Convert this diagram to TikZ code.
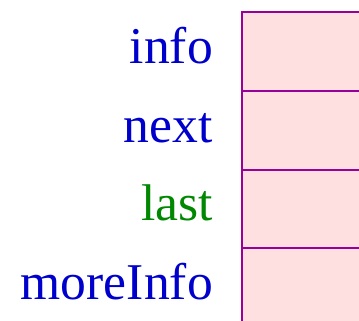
\documentclass[tikz,border=0pt]{standalone}
\usepackage{fontspec}
\setmainfont{Liberation Serif}
\definecolor{cellline}{RGB}{153,0,153}
\definecolor{cellfill}{RGB}{255,224,224}
\definecolor{fieldblue}{RGB}{0,0,204}
\definecolor{fieldgreen}{RGB}{0,136,0}
\begin{document}
\begin{tikzpicture}[x=1pt,y=-1pt,
  cell/.style={draw=cellline, fill=cellfill, line width=2pt, rectangle,
    minimum width=180pt, minimum height=78.5pt, anchor=north west, inner sep=0pt},
  field/.style={anchor=base east, inner sep=0pt,
    font=\fontsize{51.6}{60}\selectfont}]
  \useasboundingbox (0,0) rectangle (359,321);
  % record cells
  \node[cell] (c1) at (240.5,11.5) {};
  \node[cell] (c2) at (240.5,90) {};
  \node[cell] (c3) at (240.5,168.5) {};
  \node[cell] (c4) at (240.5,247) {};
  % field names
  \node[field, text=fieldblue]  (f1) at (213,63.5)  {info};
  \node[field, text=fieldblue]  (f2) at (213,142)   {next};
  \node[field, text=fieldgreen] (f3) at (213,220.5) {last};
  \node[field, text=fieldblue]  (f4) at (213,299)   {moreInfo};
\end{tikzpicture}
\end{document}
